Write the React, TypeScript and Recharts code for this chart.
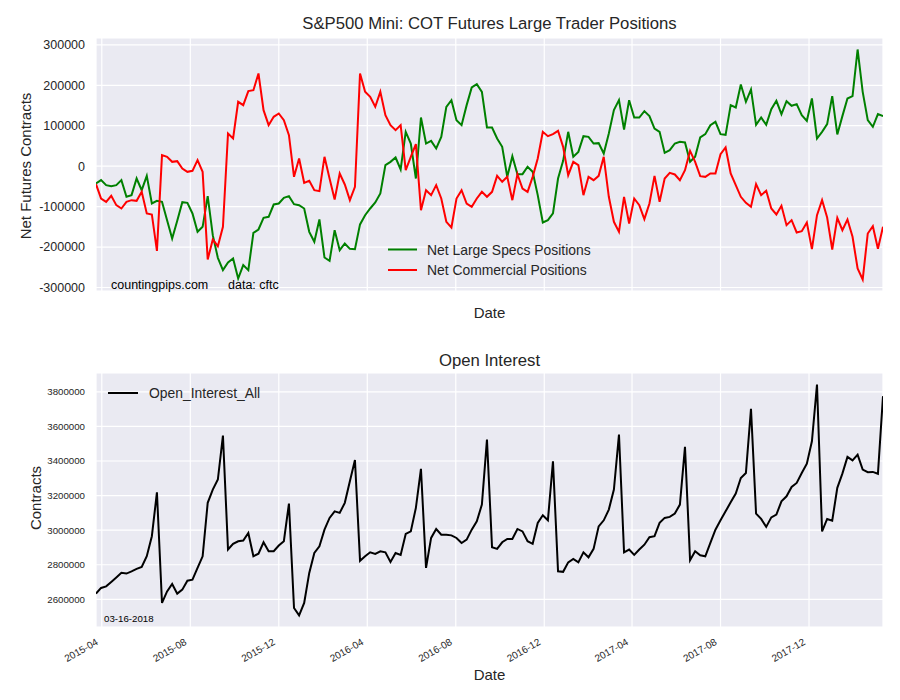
import React from 'react';
import { LineChart, Line, XAxis, YAxis, CartesianGrid } from 'recharts';

// weekly COT report dates (Tuesdays), first one 2015-03-24
const START = Date.UTC(2015, 2, 24);
const WEEK = 7 * 24 * 3600 * 1000;

const largeSpecs = [
  -42800, -34600, -47000, -49500, -47000, -34600, -75800, -71700, -30500, -59400,
  -23900, -92300, -85700, -88200, -133500, -178900, -135100, -89000, -90600, -117000,
  -162400, -150000, -74200, -170600, -226700, -257200, -238200, -228300, -277800, -244800,
  -257200, -164900, -156600, -127800, -125300, -94800, -92300, -78300, -74200, -94000,
  -96400, -104700, -162400, -187100, -131900, -225900, -234100, -158300, -207700, -191200,
  -204400, -205300, -144000, -121200, -104700, -89800, -67600, 2500, 10700, 21400,
  -8200, 84900, 56000, -30500, 120300, 56000, 62600, 43700, 72500, 146800,
  163200, 113800, 101400, 150900, 194600, 202800, 183800, 95600, 95600, 68400,
  47800, -26400, 24700, -19800, -19800, -1600, -14000, -71700, -139300, -133500,
  -117000, -30500, 13200, 84900, 23100, 35400, 74200, 72500, 56000, 56900,
  31300, 80700, 138500, 163200, 90600, 163200, 120300, 120300, 136000, 123700,
  93100, 84900, 33000, 39600, 56000, 60200, 58500, 10700, 23100, 70900,
  79100, 101400, 109600, 79100, 77500, 150900, 145100, 201900, 159100, 189600,
  102200, 120300, 102200, 141000, 161600, 128600, 160700, 149200, 153300, 126100,
  112100, 167300, 68400, 84900, 103900, 173100, 78300, 123700, 167300, 173100,
  288500, 183800, 113800, 97300, 128600, 123700,
];

const commercial = [
  -44500, -80000, -88200, -73400, -96400, -104700, -88200, -84100, -85700, -63500,
  -117000, -119500, -209400, 27200, 23100, 10700, 12400, -5800, -14000, -11500,
  14800, -14000, -230800, -181400, -197800, -150000, 80700, 68400, 159100, 150900,
  185500, 187900, 229100, 138500, 101400, 122000, 130200, 113800, 76700, -26400,
  18900, -41200, -36300, -59400, -61800, 23100, -30500, -82400, -18100, -45300,
  -84100, -51100, 229100, 183800, 171500, 146800, 183800, 126100, 101400, 89000,
  101400, -9900, 23100, 54400, -108800, -59400, -71700, -47000, -80000, -137600,
  -151700, -80000, -59400, -92300, -100500, -80000, -63500, -75800, -63500, -23900,
  -38700, -26400, -84100, -19800, -55200, -63500, -26400, 18900, 84900, 74200,
  79100, 87400, 47800, -22300, 10700, 2500, -71700, -26400, -34600, -23900,
  23100, -75800, -137600, -162400, -75800, -141800, -80000, -96400, -131100, -92300,
  -23900, -88200, -30500, -16500, -20600, -34600, -9900, 37900, 10700, -24700,
  -26400, -18100, -18100, 29700, 46200, -18100, -47000, -75800, -90600, -100500,
  -44500, -71700, -61000, -104700, -119500, -98000, -145900, -133500, -164000, -160700,
  -139300, -205300, -121200, -84100, -126900, -206100, -127800, -158300, -131900, -174700,
  -253100, -280300, -166500, -148400, -204400, -150000,
];

const openInterest = [
  2633000, 2666000, 2675000, 2700000, 2726000, 2753000, 2749000, 2762000, 2776000, 2787000,
  2849000, 2965000, 3219000, 2579000, 2646000, 2689000, 2633000, 2656000, 2708000, 2714000,
  2782000, 2849000, 3158000, 3235000, 3293000, 3547000, 2888000, 2921000, 2936000, 2940000,
  2984000, 2849000, 2864000, 2930000, 2878000, 2878000, 2911000, 2936000, 3154000, 2550000,
  2507000, 2579000, 2753000, 2868000, 2907000, 3003000, 3071000, 3109000, 3100000, 3158000,
  3283000, 3406000, 2823000, 2849000, 2872000, 2863000, 2878000, 2872000, 2816000, 2868000,
  2857000, 2978000, 2993000, 3129000, 3355000, 2782000, 2955000, 3007000, 2974000, 2974000,
  2970000, 2955000, 2926000, 2945000, 3003000, 3051000, 3148000, 3524000, 2901000, 2892000,
  2930000, 2949000, 2949000, 3007000, 2993000, 2936000, 2921000, 3042000, 3086000, 3057000,
  3398000, 2762000, 2759000, 2814000, 2834000, 2814000, 2872000, 2843000, 2892000, 3022000,
  3057000, 3119000, 3235000, 3553000, 2872000, 2888000, 2857000, 2888000, 2916000, 2959000,
  2965000, 3042000, 3071000, 3077000, 3096000, 3148000, 3482000, 2826000, 2878000, 2855000,
  2849000, 2926000, 3003000, 3057000, 3109000, 3161000, 3212000, 3302000, 3331000, 3702000,
  3096000, 3065000, 3019000, 3074000, 3090000, 3167000, 3196000, 3250000, 3273000, 3331000,
  3385000, 3514000, 3842000, 2993000, 3065000, 3055000, 3245000, 3327000, 3424000, 3404000,
  3437000, 3350000, 3335000, 3337000, 3326000, 3775000,
];

const monthTicks = ['2015-04', '2015-08', '2015-12', '2016-04', '2016-08', '2016-12', '2017-04', '2017-08', '2017-12'];
const positionTicks = [-300000, -200000, -100000, 0, 100000, 200000, 300000];
const oiTicks = [2600000, 2800000, 3000000, 3200000, 3400000, 3600000, 3800000];

const FONT = "'Liberation Sans', Arial, sans-serif";
const TXT = '#262626';

const toTime = (ym: string) => {
  const [y, m] = ym.split('-').map(Number);
  return Date.UTC(y, m - 1, 1);
};
const fmtMonth = (t: number) => {
  const d = new Date(t);
  return `${d.getUTCFullYear()}-${String(d.getUTCMonth() + 1).padStart(2, '0')}`;
};

const xTicks = monthTicks.map(toTime);
const rows = largeSpecs.map((v, i) => ({
  t: START + i * WEEK,
  specs: v,
  comm: commercial[i],
  oi: openInterest[i],
}));
const xDomain = [rows[0].t, rows[rows.length - 1].t];

const DateTick = ({ x, y, payload }: any) => (
  <text
    x={x - 3}
    y={y + 17}
    textAnchor="end"
    fontSize={10}
    fontFamily={FONT}
    fill={TXT}
    transform={`rotate(-30, ${x - 3}, ${y + 17})`}
  >
    {fmtMonth(payload.value)}
  </text>
);

// top panel shares the x axis: keep the ticks (for the grid) but draw no labels
const NoTick = () => <g />;

const Overlay = () => (
  <svg width={900} height={700} style={{ position: 'absolute', left: 0, top: 0, pointerEvents: 'none' }} fontFamily={FONT}>
    <text x={489.5} y={29} textAnchor="middle" fontSize={16.7} fill={TXT}>
      S&amp;P500 Mini: COT Futures Large Trader Positions
    </text>
    <text x={31} y={166} textAnchor="middle" fontSize={15} fill={TXT} transform="rotate(-90, 31, 166)">
      Net Futures Contracts
    </text>
    <text x={489.5} y={318} textAnchor="middle" fontSize={15} fill={TXT}>Date</text>
    <text x={111} y={289} fontSize={12.5} fill="#000">countingpips.com</text>
    <text x={228} y={289} fontSize={12.5} fill="#000">data: cftc</text>

    <line x1={388} y1={249.5} x2={417} y2={249.5} stroke="#008000" strokeWidth={2} />
    <text x={427} y={254.5} fontSize={13.9} fill={TXT}>Net Large Specs Positions</text>
    <line x1={388} y1={270} x2={417} y2={270} stroke="#ff0000" strokeWidth={2} />
    <text x={427} y={275} fontSize={13.9} fill={TXT}>Net Commercial Positions</text>

    <text x={489.5} y={366} textAnchor="middle" fontSize={16.7} fill={TXT}>Open Interest</text>
    <text x={40.5} y={498} textAnchor="middle" fontSize={15} fill={TXT} transform="rotate(-90, 40.5, 498)">
      Contracts
    </text>
    <text x={489.5} y={680} textAnchor="middle" fontSize={15} fill={TXT}>Date</text>
    <line x1={108} y1={393} x2={138} y2={393} stroke="#000" strokeWidth={2} />
    <text x={149} y={398} fontSize={13.9} fill={TXT}>Open_Interest_All</text>
    <text x={104} y={622} fontSize={9.7} fill="#000">03-16-2018</text>
  </svg>
);

export default function App() {
  return (
    <div style={{ position: 'absolute', left: 0, top: 0, width: 900, height: 700, background: '#fff', fontFamily: FONT }}>
      <div style={{ position: 'absolute', left: 0, top: 0 }}>
        <LineChart width={900} height={340} data={rows} margin={{ top: 38, right: 17, bottom: 48, left: 0 }}>
          <CartesianGrid stroke="#fff" strokeWidth={1.2} fill="#EAEAF2" fillOpacity={1} />
          <XAxis
            dataKey="t"
            type="number"
            domain={xDomain}
            ticks={xTicks}
            interval={0}
            allowDataOverflow
            tick={<NoTick />}
            axisLine={false}
            tickLine={false}
            height={1}
          />
          <YAxis
            type="number"
            domain={[-308700, 316900]}
            ticks={positionTicks}
            interval={0}
            allowDataOverflow
            width={96}
            axisLine={false}
            tickLine={false}
            tickMargin={5}
            tick={{ fontSize: 12.5, fill: TXT, fontFamily: FONT }}
          />
          <Line dataKey="specs" stroke="#008000" strokeWidth={2} dot={false} isAnimationActive={false} />
          <Line dataKey="comm" stroke="#ff0000" strokeWidth={2} dot={false} isAnimationActive={false} />
        </LineChart>
      </div>
      <div style={{ position: 'absolute', left: 0, top: 0 }}>
        <LineChart width={900} height={700} data={rows} margin={{ top: 373, right: 17, bottom: 0, left: 0 }}>
          <CartesianGrid stroke="#fff" strokeWidth={1.2} fill="#EAEAF2" fillOpacity={1} />
          <XAxis
            dataKey="t"
            type="number"
            domain={xDomain}
            ticks={xTicks}
            allowDataOverflow
            interval={0}
            axisLine={false}
            tickLine={false}
            tickSize={0}
            tickMargin={0}
            height={73}
            tick={<DateTick />}
          />
          <YAxis
            type="number"
            domain={[2440000, 3909000]}
            ticks={oiTicks}
            interval={0}
            allowDataOverflow
            width={96}
            axisLine={false}
            tickLine={false}
            tickMargin={5}
            tick={{ fontSize: 9.7, fill: TXT, fontFamily: FONT }}
          />
          <Line dataKey="oi" stroke="#000" strokeWidth={2} dot={false} isAnimationActive={false} />
        </LineChart>
      </div>
      <Overlay />
    </div>
  );
}
